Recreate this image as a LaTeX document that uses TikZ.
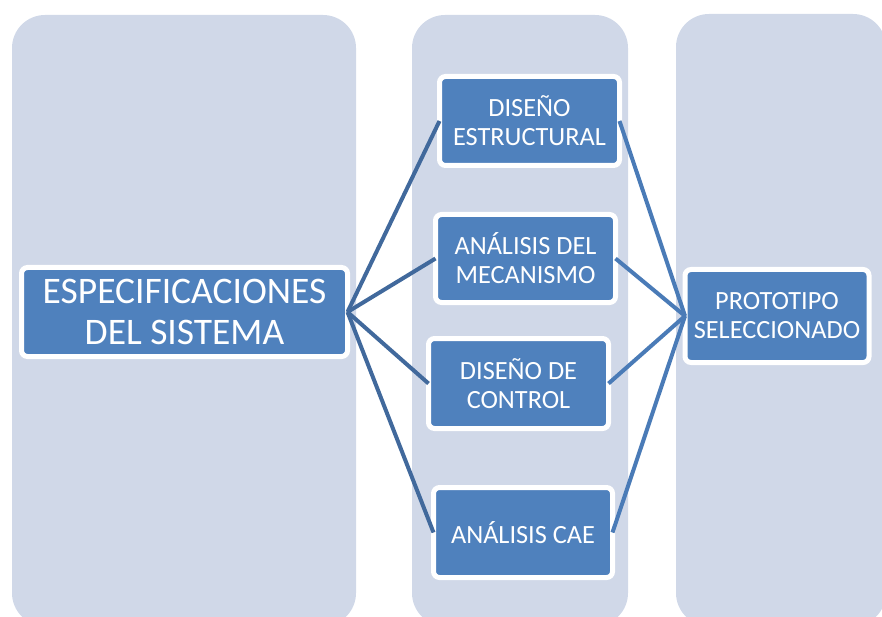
\documentclass[tikz,border=0pt]{standalone}
\usepackage{fontspec}
\setmainfont{Carlito}
\definecolor{panelc}{HTML}{D0D8E8}
\definecolor{boxc}{HTML}{4F81BD}
\definecolor{lineL}{HTML}{41699C}
\definecolor{lineR}{HTML}{4A7BB7}
\tikzset{
  panel/.style={fill=panelc, draw=none, rounded corners=33pt},
  bluebox/.style={draw=white, line width=5pt, fill=boxc, rounded corners=6pt,
    text=white, align=center, inner sep=0pt, outer sep=0pt,
    font=\fontsize{26.3}{29}\selectfont},
  bigbox/.style={bluebox, font=\fontsize{37.5}{40.5}\selectfont},
  linkL/.style={draw=lineL, line width=4pt},
  linkR/.style={draw=lineR, line width=4pt}
}
\begin{document}
\begin{tikzpicture}[x=1pt,y=-1pt]
\useasboundingbox (0,0) rectangle (882,617);
\begin{scope}
\clip (0,0) rectangle (882,617);
\fill[panel] (12,15) rectangle (356,626);
\fill[panel] (412,15) rectangle (628,626);
\fill[panel] (676,14) rectangle (886,626);
\end{scope}
\node[bigbox, minimum width=326pt, minimum height=89pt] (spec) at (184.5,312) {ESPECIFICACIONES\\DEL SISTEMA};
\node[bluebox, minimum width=180pt, minimum height=89pt] (est) at (529.5,121) {DISEÑO\\ESTRUCTURAL};
\node[bluebox, minimum width=180pt, minimum height=88pt] (mec) at (525.5,258.5) {ANÁLISIS DEL\\MECANISMO};
\node[bluebox, minimum width=180pt, minimum height=90pt] (ctl) at (518.5,383.5) {DISEÑO DE\\CONTROL};
\node[bluebox, minimum width=179pt, minimum height=90pt] (cae) at (523,532.5) {ANÁLISIS CAE};
\node[bluebox, minimum width=184pt, minimum height=93pt] (pro) at (777,316) {PROTOTIPO\\SELECCIONADO};
\foreach \n in {est,mec,ctl,cae} {
  \draw[linkL] (spec.east) -- (\n.west);
  \draw[linkR] (\n.east) -- (pro.west);
}
\end{tikzpicture}
\end{document}
